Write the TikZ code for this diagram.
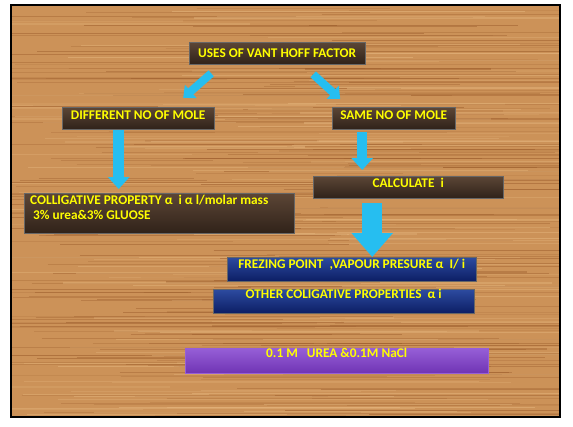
\documentclass[tikz,border=0pt]{standalone}
\usepackage{fontspec}
\setmainfont{Carlito}
\usetikzlibrary{arrows.meta}
\definecolor{woodbase}{RGB}{204,146,88}
\definecolor{wooddark}{RGB}{150,86,38}
\definecolor{woodlight}{RGB}{232,186,130}
\definecolor{brtop}{RGB}{92,70,54}
\definecolor{brbot}{RGB}{48,34,25}
\definecolor{blutop}{RGB}{45,75,160}
\definecolor{blubot}{RGB}{12,30,100}
\definecolor{purtop}{RGB}{150,95,215}
\definecolor{purbot}{RGB}{112,52,180}
\definecolor{arrcyan}{RGB}{38,190,240}
\definecolor{txtyellow}{RGB}{255,255,0}
\begin{document}
\begin{tikzpicture}[x=1pt,y=-1pt,
  txt/.style={text=txtyellow,font=\bfseries\fontsize{13.3}{14.5}\selectfont},
  boxbase/.style={txt,anchor=north west,inner xsep=0pt,inner ysep=0pt,draw=black!60,line width=0.4pt},
  brownbox/.style={boxbase,top color=brtop,bottom color=brbot},
  bluebox/.style={boxbase,top color=blutop,bottom color=blubot},
  purplebox/.style={boxbase,top color=purtop,bottom color=purbot,draw=purtop},
  blockarrow/.style={draw=arrcyan,line width=#1},
]
\useasboundingbox (0,0) rectangle (573,426);
% wooden background
\fill[woodbase] (11,5) rectangle (560,417);
\begin{scope}
\clip (11,5) rectangle (560,417);
\pgfmathsetseed{42}
\foreach \k in {1,...,260}{
  \pgfmathsetmacro{\yy}{5+412*rnd}
  \pgfmathsetmacro{\op}{0.12+0.35*rnd}
  \pgfmathsetmacro{\lw}{0.3+1.0*rnd}
  \pgfmathsetmacro{\xa}{-50+400*rnd}
  \pgfmathsetmacro{\xb}{\xa+150+350*rnd}
  \draw[wooddark,line width=\lw pt,opacity=\op] (\xa,\yy) -- (\xb,\yy);
}
\foreach \k in {1,...,130}{
  \pgfmathsetmacro{\yy}{5+412*rnd}
  \pgfmathsetmacro{\op}{0.15+0.35*rnd}
  \pgfmathsetmacro{\lw}{0.4+1.2*rnd}
  \pgfmathsetmacro{\xa}{-50+400*rnd}
  \pgfmathsetmacro{\xb}{\xa+150+350*rnd}
  \draw[woodlight,line width=\lw pt,opacity=\op] (\xa,\yy) -- (\xb,\yy);
}
\end{scope}
\draw[black,line width=1.4pt] (11,5) rectangle (560,417);

% boxes
\node[brownbox,minimum width=176pt,text height=15pt,text depth=7pt] (top) at (189,42) {USES OF VANT HOFF FACTOR};
\node[brownbox,minimum width=152pt,text height=12.5pt,text depth=9.5pt] (diff) at (62,107) {DIFFERENT NO OF MOLE};
\node[brownbox,minimum width=123pt,text height=12.5pt,text depth=9.5pt] (same) at (332,107) {SAME NO OF MOLE};
\node[brownbox,minimum width=190pt,text height=11.5pt,text depth=10.5pt] (calc) at (313,176) {CALCULATE\ \ i};
\node[brownbox,minimum width=270pt,minimum height=40pt] (coll) at (24,193) {};
\node[txt,anchor=north west,align=left,inner sep=0pt] (colltext) at (30,195) {COLLIGATIVE PROPERTY α\ \ i α l/molar mass\\\hspace{3pt}3\% urea\&3\% GLUOSE};
\node[bluebox,minimum width=249pt,text height=11.5pt,text depth=12.5pt] (frez) at (227,257) {FREZING POINT\ \ ,VAPOUR PRESURE α\ \ I/ i};
\node[bluebox,minimum width=261pt,text height=9.5pt,text depth=14.5pt] (other) at (213,289) {OTHER COLIGATIVE PROPERTIES\ \ α i};
\node[purplebox,minimum width=303pt,text height=9pt,text depth=16pt] (nacl) at (185,348) {0.1 M\ \ \ UREA \&0.1M NaCl};

% arrows
\draw[blockarrow=8pt,-{Triangle[width=17pt,length=10pt]}] ([xshift=-66pt,yshift=-9pt]top.south) -- ([xshift=45pt,yshift=9pt]diff.north);
\draw[blockarrow=8pt,-{Triangle[width=17pt,length=10pt]}] ([xshift=36pt,yshift=-10pt]top.south) -- ([xshift=-53.5pt,yshift=8pt]same.north);
\draw[blockarrow=11pt,-{Triangle[width=21pt,length=12pt]}] ([xshift=-19.5pt,yshift=-1pt]diff.south) -- ([xshift=-40.5pt,yshift=4pt]coll.north);
\draw[blockarrow=10pt,-{Triangle[width=21pt,length=12pt]}] ([xshift=-31.5pt,yshift=-3pt]same.south) -- ([xshift=-46pt,yshift=6pt]calc.north);
\draw[blockarrow=20pt,-{Triangle[width=40pt,length=24pt]}] ([xshift=-36pt,yshift=-5pt]calc.south) -- ([xshift=20.5pt,yshift=0pt]frez.north);
\end{tikzpicture}
\end{document}
